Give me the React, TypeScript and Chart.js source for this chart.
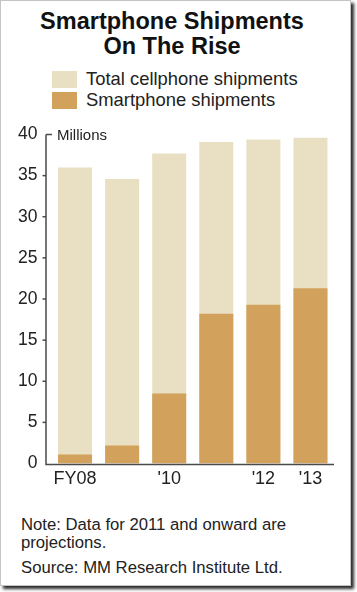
import React, { useEffect, useRef } from "react";
import { Chart, registerables } from "chart.js";

Chart.register(...registerables);

const categories = ["FY08", "FY09", "FY10", "FY11", "FY12", "FY13"];
const tickLabels = ["FY08", "", "'10", "", "'12", "'13"];
const totalShipments = [36.0, 34.6, 37.7, 39.1, 39.4, 39.6];
const smartphoneShipments = [1.1, 2.2, 8.5, 18.2, 19.3, 21.3];
const yTicks = [0, 5, 10, 15, 20, 25, 30, 35, 40];

const FONT = '"Liberation Sans", Arial, Helvetica, sans-serif';
const TEXT = "#222";
const TOTAL_COLOR = "#E9DFC3";
const SMART_COLOR = "#D2A15B";
const AXIS_COLOR = "#4a4a4a";

const axisPlugin = {
  id: "customAxis",
  afterDraw(chart: any) {
    const { ctx, chartArea, scales } = chart;
    const y = scales.y;
    const axisX = Math.round(chartArea.left - 5.5);
    const bottom = Math.round(chartArea.bottom) + 0.5;
    const top = y.getPixelForValue(40);
    ctx.save();
    ctx.strokeStyle = AXIS_COLOR;
    ctx.lineWidth = 1.5;
    ctx.beginPath();
    ctx.moveTo(axisX, top);
    ctx.lineTo(axisX, bottom);
    ctx.lineTo(chartArea.right, bottom);
    ctx.stroke();
    y.ticks.forEach((t: any) => {
      const py = y.getPixelForValue(t.value);
      ctx.beginPath();
      if (t.value === 40) {
        ctx.moveTo(axisX, py);
        ctx.lineTo(axisX + 6, py);
      } else if (t.value !== 0) {
        ctx.moveTo(axisX - 3.5, py);
        ctx.lineTo(axisX, py);
      }
      ctx.stroke();
    });
    ctx.fillStyle = TEXT;
    ctx.font = `15px ${FONT}`;
    ctx.textBaseline = "middle";
    ctx.textAlign = "left";
    ctx.fillText("Millions", axisX + 11, top + 1);
    ctx.restore();
  },
};

function ChartCanvas() {
  const ref = useRef<HTMLCanvasElement>(null);
  useEffect(() => {
    if (!ref.current) return;
    const chart = new Chart(ref.current, {
      type: "bar",
      data: {
        labels: categories,
        datasets: [
          {
            label: "Smartphone shipments",
            data: smartphoneShipments,
            backgroundColor: SMART_COLOR,
            borderWidth: 0,
            order: 1,
          },
          {
            label: "Total cellphone shipments",
            data: totalShipments,
            backgroundColor: TOTAL_COLOR,
            borderWidth: 0,
            order: 2,
          },
        ],
      },
      options: {
        responsive: false,
        animation: false,
        events: [],
        datasets: {
          bar: {
            grouped: false,
            barPercentage: 0.722,
            categoryPercentage: 1,
          },
        },
        layout: { padding: { top: 134.5, right: 16, bottom: 6.5, left: 0 } },
        plugins: {
          legend: { display: false },
          title: { display: false },
          tooltip: { enabled: false },
        },
        scales: {
          x: {
            grid: { display: false, drawTicks: false },
            border: { display: false },
            afterFit: (s: any) => {
              s.height = 30;
            },
            ticks: {
              autoSkip: false,
              maxRotation: 0,
              padding: 5,
              color: TEXT,
              font: { family: FONT, size: 18 },
              callback: (_v: any, i: number) => tickLabels[i],
            },
          },
          y: {
            min: 0,
            max: 40,
            afterFit: (s: any) => {
              s.width = 51.5;
            },
            afterBuildTicks: (s: any) => {
              s.ticks = yTicks.map((v) => ({ value: v }));
            },
            grid: { display: false, drawTicks: false },
            border: { display: false },
            ticks: {
              padding: 14,
              color: TEXT,
              font: { family: FONT, size: 17.5 },
            },
          },
        },
      },
      plugins: [axisPlugin],
    });
    return () => chart.destroy();
  }, []);
  return (
    <canvas
      ref={ref}
      width={350}
      height={500}
      style={{ position: "absolute", left: 0, top: 0, width: 350, height: 500 }}
    />
  );
}

export default function App() {
  const swatch = (c: string, top: number) => ({
    position: "absolute" as const,
    left: 52,
    top,
    width: 25,
    height: 16.5,
    background: c,
  });
  return (
    <div
      style={{
        position: "absolute",
        left: 0,
        top: 0,
        width: 357,
        height: 592,
        background: "#fff",
        fontFamily: FONT,
        color: TEXT,
        overflow: "hidden",
      }}
    >
      <div
        style={{
          position: "absolute",
          left: 0,
          top: 0,
          width: 351,
          height: 586,
          boxSizing: "border-box",
          border: "1px solid #c4c4c4",
          boxShadow: "3px 3px 3px #2a2a2a",
          background: "#fff",
        }}
      />
      <div
        style={{
          position: "absolute",
          left: 0,
          top: 9,
          width: 344,
          textAlign: "center",
          fontWeight: "bold",
          fontSize: 23.5,
          lineHeight: "25px",
          color: "#111",
        }}
      >
        Smartphone Shipments
        <br />
        On The Rise
      </div>
      <div style={swatch(TOTAL_COLOR, 71)} />
      <div style={swatch(SMART_COLOR, 92)} />
      <div
        style={{
          position: "absolute",
          left: 86,
          top: 68,
          fontSize: 18.4,
          lineHeight: "21px",
          whiteSpace: "nowrap",
        }}
      >
        Total cellphone shipments
        <br />
        Smartphone shipments
      </div>
      <ChartCanvas />
      <div
        style={{
          position: "absolute",
          left: 21,
          top: 516,
          width: 330,
          fontSize: 16.7,
          lineHeight: "18px",
          whiteSpace: "nowrap",
        }}
      >
        Note: Data for 2011 and onward are
        <br />
        projections.
        <div style={{ marginTop: 7 }}>Source: MM Research Institute Ltd.</div>
      </div>
    </div>
  );
}
